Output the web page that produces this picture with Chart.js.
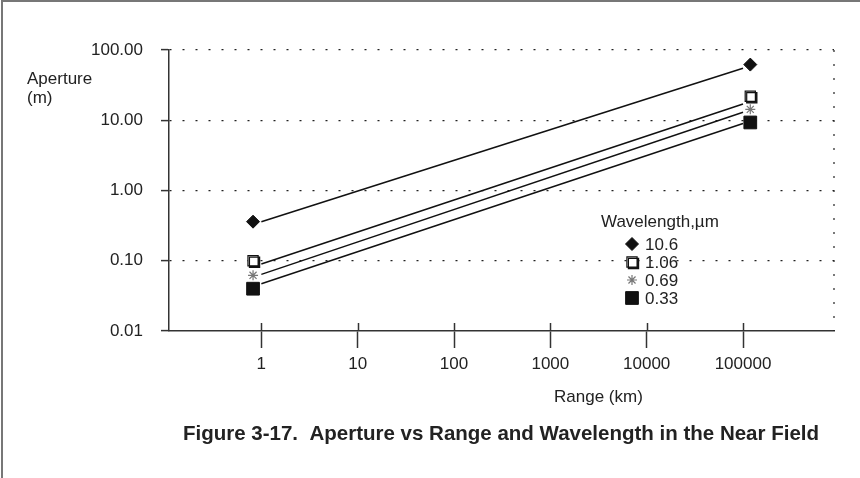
<!DOCTYPE html>
<html>
<head>
<meta charset="utf-8">
<script src="https://cdn.jsdelivr.net/npm/chart.js@4/dist/chart.umd.min.js"></script>
<style>
  html, body { margin: 0; padding: 0; background: #fff; }
  canvas { display: block; }
</style>
</head>
<body>
<canvas id="myChart" width="860" height="478"></canvas>
<script>
// range (km) where the fitted lines start and end
const lineRange = [1, 100000];
// range where the plotted symbols sit (drawn slightly outside the line ends)
const markerRange = [0.82, 119000];

const wavelengths = ['10.6', '1.06', '0.69', '0.33'];

// fitted lines, aperture (m)
const line106 = [0.36, 55];
const line1_06 = [0.09, 17];
const line069 = [0.064, 13];
const line033 = [0.047, 9.0];

// symbols, aperture (m)
const pts106 = [0.36, 62];
const pts1_06 = [0.10, 22];
const pts069 = [0.062, 14.3];
const pts033 = [0.040, 9.3];

const xTicks = [1, 10, 100, 1000, 10000, 100000];
const yTicks = [0.01, 0.1, 1, 10, 100];

const FONT = '"Liberation Sans", Arial, Helvetica, sans-serif';
const INK = '#222';

const markerStyles = [
    { pointStyle: 'rectRot', radius: 6.5, fill: '#111', stroke: '#111', width: 1 },
    { pointStyle: 'rect', radius: 7.2, fill: '#fff', stroke: '#111', width: 1.2, shadow: true },
    { pointStyle: 'star', radius: 5, fill: '#888', stroke: '#777', width: 1.2 },
    { pointStyle: 'rect', radius: 9, fill: '#111', stroke: '#111', width: 1 }
];

function toXY(xs, ys) {
    return xs.map((x, i) => ({ x: x, y: ys[i] }));
}

const lineSets = [line106, line1_06, line069, line033].map((vals, i) => ({
    label: wavelengths[i] + ' fit',
    data: toXY(lineRange, vals),
    showLine: true,
    borderColor: '#111',
    borderWidth: 1.5,
    pointRadius: 0,
    fill: false
}));

const pointSets = [pts106, pts1_06, pts069, pts033].map((vals, i) => ({
    label: wavelengths[i],
    data: toXY(markerRange, vals),
    showLine: false,
    pointStyle: markerStyles[i].pointStyle,
    pointRadius: markerStyles[i].radius,
    pointHoverRadius: markerStyles[i].radius,
    backgroundColor: markerStyles[i].fill,
    borderColor: markerStyles[i].stroke,
    borderWidth: markerStyles[i].width,
    shadowMarker: !!markerStyles[i].shadow
}));

function drawMarker(ctx, st, x, y) {
    ctx.save();
    ctx.fillStyle = st.fill;
    ctx.strokeStyle = st.stroke;
    ctx.lineWidth = st.width;
    if (st.shadow) {
        ctx.shadowColor = '#111';
        ctx.shadowOffsetX = 1.5;
        ctx.shadowOffsetY = 1.5;
    }
    if (Chart.helpers && Chart.helpers.drawPoint) {
        Chart.helpers.drawPoint(ctx, { pointStyle: st.pointStyle, radius: st.radius, rotation: 0, borderWidth: st.width }, x, y);
    } else {
        const s = st.radius * 0.7;
        ctx.fillRect(x - s, y - s, 2 * s, 2 * s);
    }
    ctx.restore();
}

// page frame, axis extras, titles, legend and caption
const decorations = {
    id: 'decorations',
    beforeDraw(chart) {
        const ctx = chart.ctx;
        ctx.save();
        ctx.fillStyle = '#fff';
        ctx.fillRect(0, 0, chart.width, chart.height);
        ctx.strokeStyle = '#777';
        ctx.lineWidth = 2;
        ctx.beginPath();
        ctx.moveTo(chart.width, 1);
        ctx.lineTo(2, 1);
        ctx.lineTo(2, chart.height);
        ctx.stroke();
        ctx.restore();
    },
    beforeDatasetDraw(chart, args) {
        if (args.meta._dataset.shadowMarker) {
            chart.ctx.save();
            chart.ctx.shadowColor = '#111';
            chart.ctx.shadowOffsetX = 1.5;
            chart.ctx.shadowOffsetY = 1.5;
        }
    },
    afterDatasetDraw(chart, args) {
        if (args.meta._dataset.shadowMarker) {
            chart.ctx.restore();
        }
    },
    afterDraw(chart) {
        const ctx = chart.ctx;
        const area = chart.chartArea;
        const xScale = chart.scales.x;
        ctx.save();

        // dotted right edge of the plot
        ctx.strokeStyle = INK;
        ctx.lineWidth = 1.2;
        ctx.setLineDash([2, 12]);
        ctx.beginPath();
        ctx.moveTo(area.right, area.top);
        ctx.lineTo(area.right, area.bottom);
        ctx.stroke();
        ctx.setLineDash([]);

        // x ticks also poke up into the plot
        ctx.strokeStyle = '#333';
        ctx.lineWidth = 1.5;
        xTicks.forEach(v => {
            const px = Math.round(xScale.getPixelForValue(v)) + 0.5;
            ctx.beginPath();
            ctx.moveTo(px, area.bottom - 8);
            ctx.lineTo(px, area.bottom);
            ctx.stroke();
        });

        ctx.fillStyle = INK;
        ctx.font = '17px ' + FONT;
        ctx.textAlign = 'left';
        ctx.textBaseline = 'alphabetic';
        ctx.fillText('Aperture', 27, 84);
        ctx.fillText('(m)', 27, 103);
        ctx.fillText('Range (km)', 554, 402);

        // legend
        ctx.textBaseline = 'middle';
        ctx.fillText('Wavelength,\u00b5m', 601, 222);
        const rowY = [244, 262, 280, 298];
        wavelengths.forEach((w, i) => {
            drawMarker(ctx, markerStyles[i], 632, rowY[i]);
            ctx.fillStyle = INK;
            ctx.fillText(w, 645, rowY[i] + 1);
        });

        // caption
        ctx.font = 'bold 20.5px ' + FONT;
        ctx.textBaseline = 'alphabetic';
        ctx.fillText('Figure 3-17.  Aperture vs Range and Wavelength in the Near Field', 183, 440);
        ctx.restore();
    }
};

const ctx = document.getElementById('myChart').getContext('2d');
const myChart = new Chart(ctx, {
    type: 'scatter',
    data: {
        datasets: lineSets.concat(pointSets)
    },
    options: {
        responsive: false,
        animation: false,
        devicePixelRatio: 1,
        layout: {
            padding: { top: 50, right: 26, left: 0, bottom: 0 }
        },
        scales: {
            x: {
                type: 'logarithmic',
                min: 0.11,
                max: 880000,
                afterBuildTicks: function(scale) {
                    scale.ticks = xTicks.map(v => ({ value: v }));
                },
                afterFit: function(scale) {
                    scale.height = 147;
                },
                ticks: {
                    autoSkip: false,
                    maxRotation: 0,
                    minRotation: 0,
                    padding: 6,
                    color: INK,
                    font: { family: FONT, size: 17 },
                    callback: function(value) {
                        return String(value);
                    }
                },
                grid: {
                    display: true,
                    drawOnChartArea: false,
                    tickLength: 17,
                    tickWidth: 1.5,
                    tickColor: '#333'
                },
                border: {
                    display: true,
                    color: '#333',
                    width: 1.5
                }
            },
            y: {
                type: 'logarithmic',
                min: 0.01,
                max: 100,
                afterBuildTicks: function(scale) {
                    scale.ticks = yTicks.map(v => ({ value: v }));
                },
                afterFit: function(scale) {
                    scale.width = 169;
                },
                ticks: {
                    autoSkip: false,
                    padding: 18,
                    color: INK,
                    font: { family: FONT, size: 17 },
                    callback: function(value) {
                        return Number(value).toFixed(2);
                    }
                },
                grid: {
                    display: true,
                    drawOnChartArea: true,
                    color: function(c) {
                        return c.tick && c.tick.value === 0.01 ? 'rgba(0,0,0,0)' : INK;
                    },
                    lineWidth: 1.2,
                    tickLength: 8,
                    tickWidth: 1.5,
                    tickColor: '#333',
                    tickBorderDash: []
                },
                border: {
                    display: true,
                    color: '#333',
                    width: 1.5,
                    dash: [2, 11]
                }
            }
        },
        plugins: {
            legend: {
                display: false
            },
            tooltip: {
                enabled: false
            }
        }
    },
    plugins: [decorations]
});
</script>
</body>
</html>
